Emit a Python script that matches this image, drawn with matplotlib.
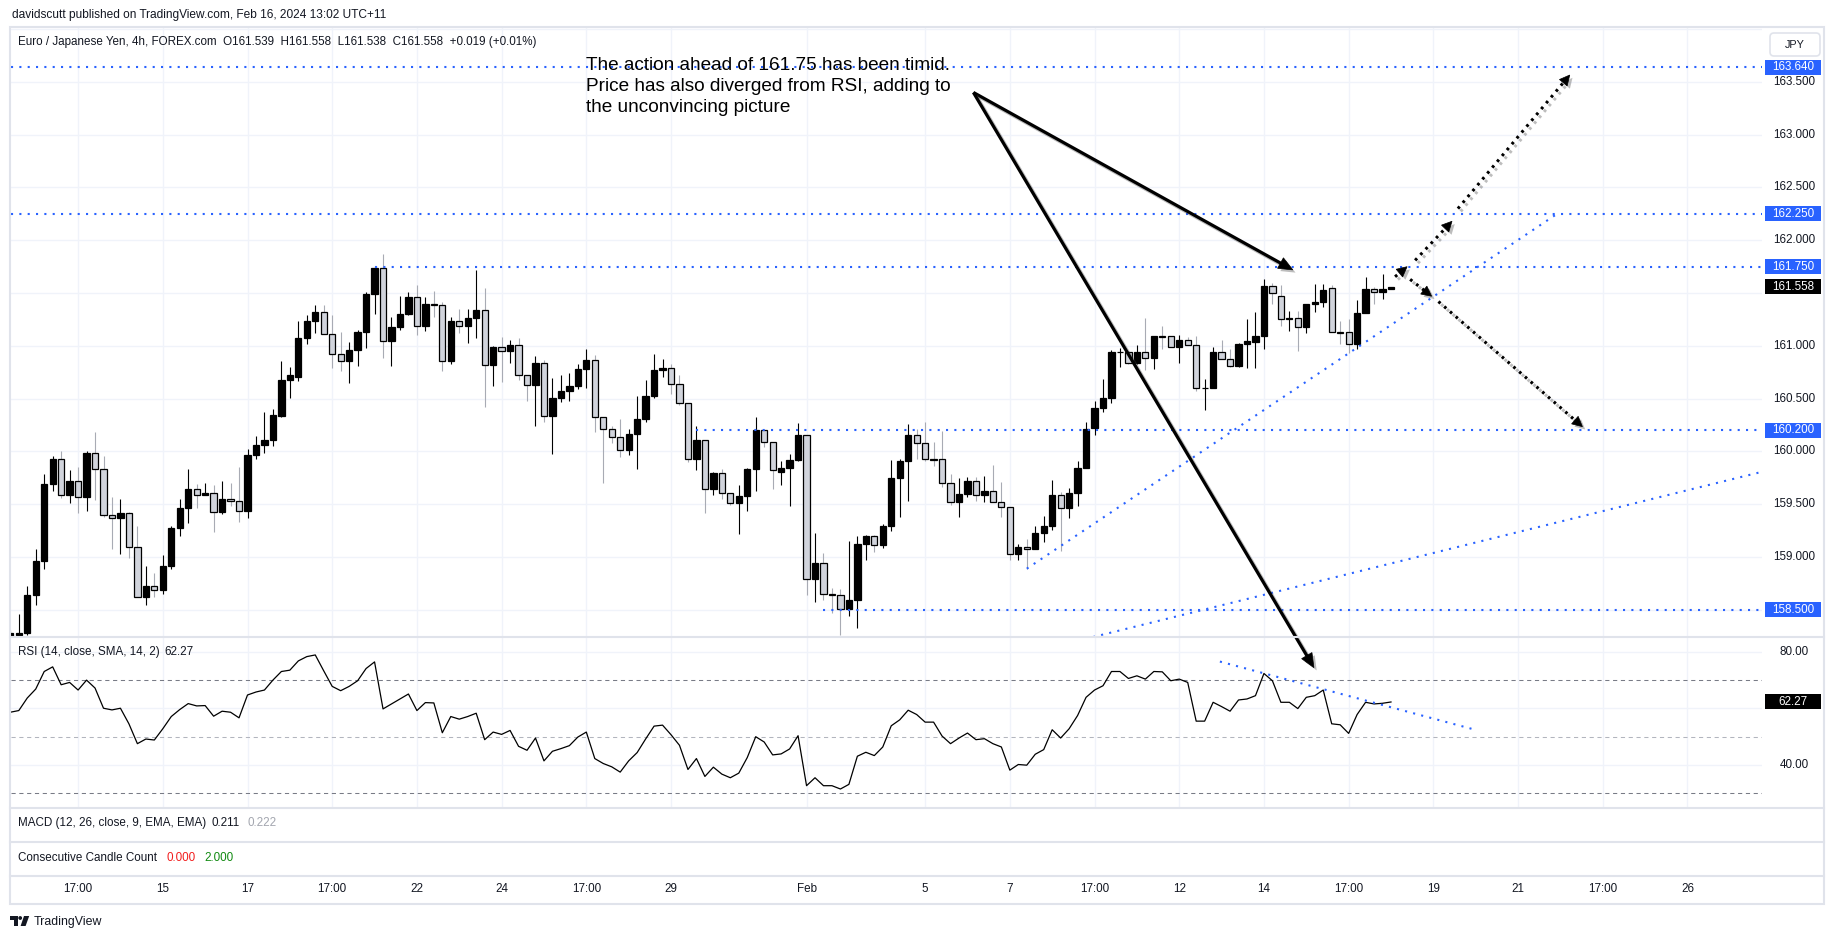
import numpy as np
import matplotlib
matplotlib.use("Agg")
import matplotlib.pyplot as plt
import matplotlib.patheffects as pe
from matplotlib.patches import Rectangle, Polygon, Circle, FancyBboxPatch

plt.rcParams['font.family'] = ['Liberation Sans', 'DejaVu Sans']

W, H = 1835, 939

# ---------------- data (EUR/JPY 4h candles) ----------------
opens = [158.25, 158.26, 158.28, 158.64, 158.96, 159.69, 159.93, 159.59, 159.72, 159.57,
         159.99, 159.83, 159.40, 159.37, 159.42, 159.10, 158.62, 158.73, 158.69, 158.92,
         159.28, 159.46, 159.64, 159.59, 159.61, 159.43, 159.55, 159.53, 159.44, 159.97,
         160.06, 160.11, 160.34, 160.68, 160.71, 161.07, 161.24, 161.32, 161.11, 160.92,
         160.86, 160.96, 161.13, 161.49, 161.74, 161.05, 161.18, 161.30, 161.46, 161.19,
         161.40, 161.39, 160.86, 161.24, 161.19, 161.26, 161.34, 160.82, 160.99, 160.95,
         161.01, 160.72, 160.63, 160.84, 160.34, 160.51, 160.57, 160.62, 160.78, 160.87,
         160.33, 160.21, 160.14, 160.01, 160.17, 160.31, 160.53, 160.77, 160.79, 160.64,
         160.46, 159.93, 160.11, 159.64, 159.80, 159.61, 159.51, 159.58, 159.83, 160.20,
         160.09, 159.81, 159.84, 159.92, 160.16, 158.79, 158.94, 158.65, 158.64, 158.51,
         158.59, 159.12, 159.20, 159.11, 159.29, 159.75, 159.91, 160.16, 160.08, 159.93,
         159.93, 159.70, 159.52, 159.60, 159.72, 159.59, 159.63, 159.52, 159.47, 159.03,
         159.10, 159.08, 159.23, 159.29, 159.59, 159.46, 159.61, 159.84, 160.22, 160.41,
         160.51, 160.94, 160.94, 160.84, 160.94, 160.89, 161.09, 161.09, 160.99, 161.06,
         161.01, 160.60, 160.60, 160.94, 160.88, 160.81, 161.02, 161.04, 161.09, 161.57,
         161.47, 161.25, 161.26, 161.18, 161.40, 161.42, 161.55, 161.13, 161.13, 161.02,
         161.31, 161.54, 161.51, 161.539]
highs = [158.31, 158.46, 158.73, 159.08, 159.79, 159.96, 160.00, 159.82, 159.85, 160.00,
         160.18, 159.96, 159.57, 159.55, 159.43, 159.29, 158.92, 158.85, 159.02, 159.29,
         159.55, 159.83, 159.69, 159.70, 159.68, 159.72, 159.70, 159.85, 160.02, 160.15,
         160.37, 160.40, 160.86, 160.80, 161.24, 161.29, 161.39, 161.39, 161.29, 161.13,
         161.04, 161.15, 161.51, 161.76, 161.87, 161.27, 161.47, 161.51, 161.58, 161.46,
         161.52, 161.42, 161.27, 161.35, 161.35, 161.72, 161.55, 161.00, 161.08, 161.06,
         161.07, 160.72, 160.90, 160.87, 160.70, 160.72, 160.74, 160.83, 160.97, 160.91,
         160.33, 160.24, 160.31, 160.21, 160.53, 160.68, 160.92, 160.88, 160.83, 160.72,
         160.46, 160.24, 160.11, 159.81, 159.83, 159.61, 159.68, 159.84, 160.33, 160.20,
         160.09, 159.91, 159.98, 160.27, 160.16, 159.23, 159.04, 158.71, 158.70, 159.15,
         159.20, 159.21, 159.21, 159.31, 159.92, 159.93, 160.26, 160.21, 160.28, 160.09,
         160.19, 159.79, 159.75, 159.76, 159.76, 159.77, 159.87, 159.71, 159.47, 159.12,
         159.17, 159.29, 159.39, 159.73, 159.62, 159.65, 159.91, 160.28, 160.48, 160.69,
         160.96, 160.98, 160.95, 161.01, 161.26, 161.09, 161.19, 161.09, 161.10, 161.08,
         161.09, 160.69, 160.99, 161.06, 160.97, 161.03, 161.25, 161.32, 161.63, 161.60,
         161.58, 161.33, 161.33, 161.40, 161.59, 161.59, 161.58, 161.24, 161.25, 161.43,
         161.65, 161.56, 161.68, 161.558]
lows = [158.24, 158.25, 158.26, 158.55, 158.89, 159.63, 159.56, 159.51, 159.42, 159.44,
        159.54, 159.38, 159.08, 159.03, 158.99, 158.62, 158.55, 158.62, 158.65, 158.89,
        159.20, 159.32, 159.46, 159.59, 159.24, 159.41, 159.48, 159.33, 159.37, 159.93,
        159.99, 160.05, 160.33, 160.51, 160.67, 161.02, 161.12, 161.11, 160.79, 160.76,
        160.65, 160.81, 160.98, 161.30, 160.89, 160.81, 161.15, 161.29, 161.10, 161.14,
        161.27, 160.76, 160.83, 161.12, 161.03, 161.07, 160.42, 160.62, 160.66, 160.84,
        160.68, 160.48, 160.24, 160.28, 159.98, 160.47, 160.48, 160.59, 160.60, 160.18,
        159.70, 160.08, 159.95, 159.97, 159.83, 160.28, 160.51, 160.71, 160.54, 160.44,
        159.90, 159.82, 159.42, 159.59, 159.55, 159.49, 159.22, 159.44, 159.63, 160.04,
        159.64, 159.68, 159.48, 159.91, 158.64, 158.57, 158.59, 158.47, 158.26, 158.44,
        158.33, 158.97, 159.05, 159.09, 159.25, 159.38, 159.53, 159.93, 159.91, 159.86,
        159.66, 159.49, 159.38, 159.57, 159.53, 159.52, 159.52, 159.38, 158.97, 158.97,
        158.89, 159.08, 159.14, 159.26, 159.06, 159.37, 159.48, 159.84, 160.16, 160.37,
        160.46, 160.80, 160.83, 160.83, 160.77, 160.78, 160.97, 160.99, 160.84, 161.01,
        160.57, 160.39, 160.60, 160.88, 160.80, 160.80, 160.79, 160.79, 160.97, 161.40,
        161.19, 161.14, 160.95, 161.12, 161.32, 161.37, 161.13, 161.02, 160.93, 160.97,
        161.31, 161.40, 161.44, 161.538]
closes = [158.28, 158.28, 158.64, 158.96, 159.69, 159.93, 159.59, 159.72, 159.57, 159.99,
          159.83, 159.40, 159.37, 159.42, 159.10, 158.62, 158.73, 158.69, 158.92, 159.28,
          159.46, 159.64, 159.59, 159.61, 159.43, 159.55, 159.53, 159.44, 159.97, 160.06,
          160.11, 160.35, 160.68, 160.72, 161.07, 161.24, 161.32, 161.11, 160.92, 160.86,
          160.96, 161.13, 161.49, 161.74, 161.05, 161.18, 161.30, 161.46, 161.19, 161.40,
          161.39, 160.86, 161.24, 161.19, 161.26, 161.34, 160.82, 160.99, 160.95, 161.01,
          160.72, 160.63, 160.84, 160.34, 160.51, 160.57, 160.62, 160.78, 160.87, 160.33,
          160.21, 160.14, 160.01, 160.17, 160.31, 160.53, 160.77, 160.79, 160.64, 160.46,
          159.93, 160.11, 159.64, 159.80, 159.61, 159.51, 159.58, 159.83, 160.20, 160.09,
          159.82, 159.84, 159.92, 160.16, 158.79, 158.94, 158.65, 158.64, 158.51, 158.59,
          159.12, 159.20, 159.11, 159.29, 159.75, 159.91, 160.16, 160.08, 159.93, 159.92,
          159.70, 159.52, 159.60, 159.72, 159.59, 159.63, 159.52, 159.47, 159.03, 159.10,
          159.08, 159.23, 159.29, 159.59, 159.46, 159.61, 159.84, 160.21, 160.41, 160.51,
          160.94, 160.945, 160.84, 160.94, 160.89, 161.09, 161.085, 160.99, 161.06, 161.01,
          160.60, 160.605, 160.94, 160.88, 160.81, 161.02, 161.05, 161.09, 161.57, 161.50,
          161.25, 161.26, 161.18, 161.40, 161.42, 161.53, 161.13, 161.125, 161.02, 161.31,
          161.54, 161.51, 161.539, 161.558]
rsi = [58.65, 59.24, 63.68, 66.84, 73.04, 74.68, 68.36, 69.18, 66.49, 70.00,
       67.19, 60.06, 59.47, 60.06, 54.56, 47.54, 49.18, 48.83, 52.81, 57.13,
       59.59, 61.70, 60.88, 61.00, 57.25, 59.01, 58.65, 56.67, 64.74, 65.79,
       66.49, 70.00, 73.04, 73.51, 76.78, 78.30, 78.89, 73.27, 67.78, 66.26,
       67.78, 69.77, 74.09, 76.43, 59.82, 61.58, 63.33, 65.09, 59.24, 62.05,
       61.93, 51.40, 57.13, 56.20, 57.13, 58.30, 48.95, 51.64, 50.82, 52.22,
       46.61, 45.20, 49.53, 41.46, 44.85, 45.79, 46.84, 49.88, 51.64, 42.28,
       40.53, 39.36, 37.49, 41.46, 44.39, 49.18, 53.74, 54.09, 50.70, 46.96,
       38.42, 42.28, 35.96, 39.24, 36.78, 35.50, 37.13, 42.63, 50.00, 48.13,
       43.57, 43.92, 45.67, 50.35, 32.69, 35.50, 32.69, 32.69, 31.52, 33.16,
       43.10, 44.50, 43.33, 46.37, 53.86, 55.96, 59.36, 57.84, 55.15, 55.15,
       50.23, 47.54, 49.53, 51.29, 48.95, 49.30, 47.54, 46.37, 38.19, 40.18,
       39.94, 43.80, 45.44, 52.46, 49.53, 52.81, 57.49, 63.92, 66.49, 68.01,
       73.04, 73.04, 70.58, 71.52, 70.35, 73.04, 72.92, 69.77, 70.35, 69.18,
       55.50, 55.50, 62.16, 60.64, 59.01, 62.98, 63.33, 64.50, 72.34, 69.77,
       62.16, 62.16, 59.94, 63.92, 64.50, 66.49, 54.56, 54.21, 51.17, 57.84,
       62.16, 61.58, 61.81, 62.27]

# time axis: bar index of each label
time_tick_bars = [9, 19, 29, 39, 49, 59, 69, 79, 95, 109, 119, 129, 139, 149, 159, 169, 179, 189, 199]
time_tick_labels = ["17:00", "15", "17", "17:00", "22", "24", "17:00", "29", "Feb", "5", "7",
                    "17:00", "12", "14", "17:00", "19", "21", "17:00", "26"]
price_ticks = [158.5, 159.0, 159.5, 160.0, 160.5, 161.0, 161.5, 162.0, 162.5, 163.0, 163.5, 164.0]
price_tick_labels = ["158.500", "159.000", "159.500", "160.000", "160.500", "161.000",
                     "161.500", "162.000", "162.500", "163.000", "163.500", ""]
rsi_grid = [40, 60, 80]
rsi_tick_labels = ["40.00", "60.00", "80.00"]

# drawings
level_prices = [163.64, 162.25, 161.75, 160.20, 158.50]
level_labels = ["163.640", "162.250", "161.750", "160.200", "158.500"]
level_start_bar = [0, 0, 44, 82, 97]
support_x, support_y = [121, 183.6], [158.89, 162.25]
long_x, long_y = [125, 215], [158.167, 159.95]
rsi_tl_x, rsi_tl_y = [143.8, 173.5], [76.55, 52.81]
arrow_src = (114.7, 163.40)
arrow1_dst = (152.4, 161.72)
arrow2_dst_rsi = (154.9, 74.4)
dotted_up = [((164.48, 161.655), (165.9, 161.75)),
             ((166.85, 161.81), (171.2, 162.18)),
             ((171.9, 162.30), (185.1, 163.565))]
dotted_down = [((166.26, 161.63), (168.8, 161.47)),
               ((169.6, 161.42), (186.6, 160.235))]

# ---------------- figure ----------------
fig = plt.figure(figsize=(W / 100, H / 100), dpi=100)
fig.patch.set_facecolor('white')


def frac(x0, y0, x1, y1):
    return [x0 / W, 1 - y1 / H, (x1 - x0) / W, (y1 - y0) / H]


ax = fig.add_axes(frac(10.5, 27, 1762, 637))
ax_r = fig.add_axes(frac(10.5, 637, 1762, 808))
XMIN, XMAX = 1.02, 207.8
for a in (ax, ax_r):
    a.set_xlim(XMIN, XMAX)
    a.set_axis_off()
ax.set_ylim(158.243, 164.02)
ax_r.set_ylim(24.81, 85.23)

ov = fig.add_axes([0, 0, 1, 1])
ov.set_xlim(0, W)
ov.set_ylim(H, 0)
ov.set_axis_off()
ov.set_facecolor('none')

GRID = '#f0f3fa'
BLUE = '#2962ff'
TXT = '#131722'
FS = 8.4

for n in time_tick_bars:
    ax.axvline(n, color=GRID, lw=1, zorder=0)
    ax_r.axvline(n, color=GRID, lw=1, zorder=0)
for p in price_ticks:
    ax.axhline(p, color=GRID, lw=1, zorder=0)
for v in rsi_grid:
    ax_r.axhline(v, color=GRID, lw=1, zorder=0)

# candles
o = np.array(opens); h = np.array(highs); l = np.array(lows); c = np.array(closes)
x = np.arange(1, len(o) + 1)
up = c >= o
ax.vlines(x[up], l[up], h[up], color='black', lw=0.8, zorder=2)
ax.vlines(x[~up], l[~up], h[~up], color='#a8abb4', lw=0.8, zorder=2)
ax.bar(x, np.maximum(np.abs(c - o), 0.0005), bottom=np.minimum(o, c), width=0.74,
       color=np.where(up, 'black', '#d1d4dc'), edgecolor='black', linewidth=0.9, zorder=3)

# blue levels & trendlines
dot = dict(color=BLUE, lw=1.5, ls=(0, (1, 3)), zorder=4)
for p, s in zip(level_prices, level_start_bar):
    ax.plot([max(s, XMIN), XMAX], [p, p], **dot)
ax.plot(support_x, support_y, **dot)
ax.plot(long_x, long_y, **dot)
ax_r.plot(rsi_tl_x, rsi_tl_y, **dot)

# RSI
ax_r.axhline(70, color='#787b86', lw=0.75, ls=(0, (4, 3.5)), zorder=1)
ax_r.axhline(30, color='#787b86', lw=0.75, ls=(0, (4, 3.5)), zorder=1)
ax_r.axhline(50, color='#b2b5be', lw=0.75, ls=(0, (4, 3.5)), zorder=1)
ax_r.plot(x, rsi, color='black', lw=0.9, zorder=3)


def px(a, xx, yy):
    d = a.transData.transform((xx, yy))
    return d[0], H - d[1]


shadow_l = [pe.SimpleLineShadow(offset=(2, -2), shadow_color='#444444', alpha=0.35), pe.Normal()]
shadow_p = [pe.SimplePatchShadow(offset=(2, -2), shadow_rgbFace='#444444', alpha=0.35), pe.Normal()]


def draw_arrow(p0, p1, lw, ls, head_len, head_w):
    x0, y0 = p0
    x1, y1 = p1
    d = np.array([x1 - x0, y1 - y0])
    u = d / np.hypot(*d)
    perp = np.array([-u[1], u[0]])
    base = np.array([x1, y1]) - u * head_len
    ov.plot([x0, base[0] + u[0]], [y0, base[1] + u[1]], color='black', lw=lw, ls=ls,
            dash_capstyle='butt', solid_capstyle='butt', path_effects=shadow_l, zorder=6)
    tri = Polygon([(x1, y1), base + perp * head_w / 2, base - perp * head_w / 2], closed=True,
                  fc='black', ec='black', lw=0.5, path_effects=shadow_p, zorder=7)
    ov.add_patch(tri)


s0 = px(ax, *arrow_src)
draw_arrow(s0, px(ax, *arrow1_dst), 2.3, '-', 14, 12)
draw_arrow(s0, px(ax_r, *arrow2_dst_rsi), 2.3, '-', 14, 12)
for a0, a1 in dotted_up + dotted_down:
    draw_arrow(px(ax, *a0), px(ax, *a1), 2.2, (0, (0.9, 1.6)), 10, 10)

# annotation text
note_lines = ["The action ahead of 161.75 has been timid.",
              "Price has also diverged from RSI, adding to",
              "the unconvincing picture"]
for i, t in enumerate(note_lines):
    ov.text(586, 69.5 + 21.2 * i, t, fontsize=13.7, color='black', ha='left', va='baseline', zorder=8)

# frame & separators
SEP = '#e0e3eb'
ov.add_patch(Rectangle((10, 27), 1814, 877, fc='none', ec=SEP, lw=1.5, zorder=9))
for yy in (637, 808, 842, 876):
    ov.plot([10, 1824], [yy, yy], color=SEP, lw=1.5, zorder=9)


def box_label(yy, text, fc):
    ov.add_patch(Rectangle((1765, yy - 7.5), 56, 15, fc=fc, ec='none', zorder=10))
    ov.text(1793, yy, text, fontsize=FS, color='white', ha='center', va='center', zorder=11)


# price scale (labels hidden by a value box are skipped, as on the original)
price_boxes = [px(ax, XMIN, p)[1] for p in level_prices] + [px(ax, XMIN, closes[-1])[1]]
for p, t in zip(price_ticks, price_tick_labels):
    yy = px(ax, XMIN, p)[1]
    if t and min(abs(yy - b) for b in price_boxes) > 13:
        ov.text(1794, yy, t, fontsize=FS, color=TXT, ha='center', va='center', zorder=8)
for p, t in zip(level_prices, level_labels):
    box_label(px(ax, XMIN, p)[1], t, BLUE)
box_label(px(ax, XMIN, closes[-1])[1], f"{closes[-1]:.3f}", 'black')

rsi_box = px(ax_r, XMIN, rsi[-1])[1]
for v, t in zip(rsi_grid, rsi_tick_labels):
    yy = px(ax_r, XMIN, v)[1]
    if abs(yy - rsi_box) > 13:
        ov.text(1794, yy, t, fontsize=FS, color=TXT, ha='center', va='center', zorder=8)
box_label(rsi_box, f"{rsi[-1]:.2f}", 'black')

ov.add_patch(FancyBboxPatch((1770, 33), 50, 23, boxstyle="round,pad=0,rounding_size=4",
                            fc='white', ec=SEP, lw=1.2, zorder=10))
ov.text(1795, 44.5, "JPY", fontsize=7.8, color=TXT, ha='center', va='center', zorder=11)

# time axis
for n, t in zip(time_tick_bars, time_tick_labels):
    ov.text(px(ax, n, 160)[0], 889, t, fontsize=FS, color=TXT, ha='center', va='center', zorder=8)

# header / legends
ov.text(12, 15, "davidscutt published on TradingView.com, Feb 16, 2024 13:02 UTC+11",
        fontsize=8.6, color=TXT, ha='left', va='center')
ov.text(18, 42.5, "Euro / Japanese Yen, 4h, FOREX.com  O161.539  H161.558  L161.538  C161.558  +0.019 (+0.01%)",
        fontsize=8.4, color=TXT, ha='left', va='center', zorder=8)
ov.text(18, 652, "RSI (14, close, SMA, 14, 2)", fontsize=FS, color=TXT, ha='left', va='center', zorder=8)
ov.text(164, 652, "62.27", fontsize=FS, color=TXT, ha='left', va='center', zorder=8)
ov.text(18, 823, "MACD (12, 26, close, 9, EMA, EMA)", fontsize=FS, color=TXT, ha='left', va='center')
ov.text(211, 823, "0.211", fontsize=FS, color=TXT, ha='left', va='center')
ov.text(247, 823, "0.222", fontsize=FS, color='#a3a6af', ha='left', va='center')
ov.text(18, 858, "Consecutive Candle Count", fontsize=FS, color=TXT, ha='left', va='center')
ov.text(166, 858, "0.000", fontsize=FS, color='#f21d1d', ha='left', va='center')
ov.text(204, 858, "2.000", fontsize=FS, color='#118a11', ha='left', va='center')

# TradingView logo
ov.add_patch(Polygon([(9.6, 916), (17.6, 916), (17.6, 926), (13.6, 926), (13.6, 919.6), (9.6, 919.6)],
                     closed=True, fc=TXT, ec='none'))
ov.add_patch(Circle((20.2, 918), 1.9, fc=TXT, ec='none'))
ov.add_patch(Polygon([(24.0, 916), (29.2, 916), (25.6, 926), (20.6, 926)], closed=True, fc=TXT, ec='none'))
ov.text(34, 921.5, "TradingView", fontsize=8.9, color=TXT, ha='left', va='center')

fig.savefig("out.png", dpi=100, facecolor='white')
